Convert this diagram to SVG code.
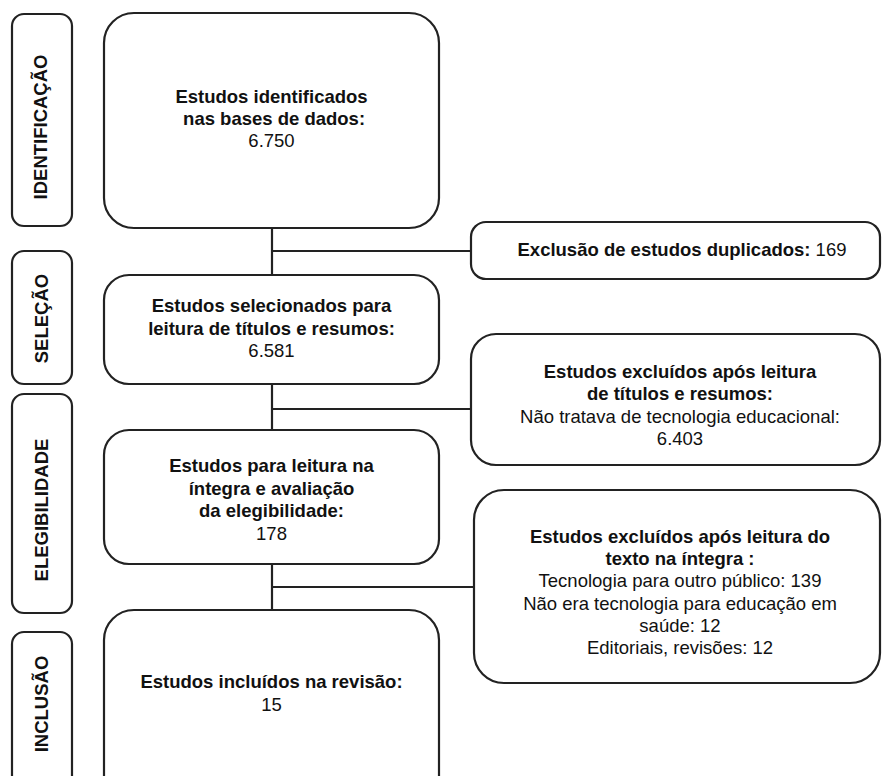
<svg xmlns="http://www.w3.org/2000/svg" width="882" height="776" viewBox="0 0 882 776">
<style>
.box{fill:#fff;stroke:#222;stroke-width:2.2}
.ln{stroke:#222;stroke-width:2.2;fill:none}
text{font-family:"Liberation Sans",Arial,sans-serif;font-size:18.5px;fill:#111;text-anchor:middle}
.b{font-weight:bold}
.r{font-weight:normal}
</style>
<rect x="0" y="0" width="882" height="776" fill="#fff"/>
<g id="lbl-identificacao">
<rect class="box" x="12" y="14" width="60" height="212" rx="12"/>
<text class="b" transform="translate(47,127) rotate(-90)">IDENTIFICAÇÃO</text>
</g>
<g id="lbl-selecao">
<rect class="box" x="12" y="251" width="60" height="133" rx="12"/>
<text class="b" transform="translate(48,318.5) rotate(-90)">SELEÇÃO</text>
</g>
<g id="lbl-elegibilidade">
<rect class="box" x="12" y="394" width="60" height="219" rx="12"/>
<text class="b" transform="translate(48,510) rotate(-90)">ELEGIBILIDADE</text>
</g>
<g id="lbl-inclusao">
<rect class="box" x="12" y="632" width="60" height="170" rx="12"/>
<text class="b" transform="translate(48,704) rotate(-90)">INCLUSÃO</text>
</g>
<g id="connectors">
<path class="ln" d="M272 228V275M272 251H471"/>
<path class="ln" d="M272 384V430M272 409H471"/>
<path class="ln" d="M272 564V610M272 587H475"/>
</g>
<g id="n1">
<rect class="box" x="104" y="13" width="335" height="215" rx="30"/>
<text x="271.5" y="103"><tspan class="b" x="271.5">Estudos identificados</tspan><tspan class="b" x="271.5" dy="22"> nas bases de dados:</tspan><tspan class="r" x="271.5" dy="22">6.750</tspan></text>
</g>
<g id="n2">
<rect class="box" x="104" y="275" width="335" height="109" rx="25"/>
<text x="271.5" y="312"><tspan class="b" x="271.5">Estudos selecionados para</tspan><tspan class="b" x="271.5" dy="22.5">leitura de títulos e resumos:</tspan><tspan class="r" x="271.5" dy="22.5">6.581</tspan></text>
</g>
<g id="n3">
<rect class="box" x="104" y="430" width="335" height="134" rx="25"/>
<text x="271.5" y="472"><tspan class="b" x="271.5">Estudos para leitura na</tspan><tspan class="b" x="271.5" dy="22.6">íntegra e avaliação</tspan><tspan class="b" x="271.5" dy="22.6">da elegibilidade:</tspan><tspan class="r" x="271.5" dy="22.6">178</tspan></text>
</g>
<g id="n4">
<rect class="box" x="104" y="610" width="335" height="200" rx="30"/>
<text x="271.5" y="688"><tspan class="b" x="271.5">Estudos incluídos na revisão:</tspan><tspan class="r" x="271.5" dy="23">15</tspan></text>
</g>
<g id="r1">
<rect class="box" x="471" y="222" width="409" height="57" rx="15"/>
<text x="682" y="256"><tspan class="b">Exclusão de estudos duplicados:</tspan><tspan class="r"> 169</tspan></text>
</g>
<g id="r2">
<rect class="box" x="471" y="334" width="409" height="131" rx="25"/>
<text x="680" y="378"><tspan class="b" x="680">Estudos excluídos após leitura</tspan><tspan class="b" x="680" dy="22.4">de títulos e resumos:</tspan><tspan class="r" x="680" dy="22.4">Não tratava de tecnologia educacional:</tspan><tspan class="r" x="680" dy="22.4">6.403</tspan></text>
</g>
<g id="r3">
<rect class="box" x="474" y="490" width="406" height="193" rx="30"/>
<text x="680" y="543"><tspan class="b" x="680">Estudos excluídos após leitura do</tspan><tspan class="b" x="680" dy="22.2">texto na íntegra :</tspan><tspan class="r" x="680" dy="22.2">Tecnologia para outro público: 139</tspan><tspan class="r" x="680" dy="22.2">Não era tecnologia para educação em</tspan><tspan class="r" x="680" dy="22.2">saúde: 12</tspan><tspan class="r" x="680" dy="22.2">Editoriais, revisões: 12</tspan></text>
</g>
</svg>
